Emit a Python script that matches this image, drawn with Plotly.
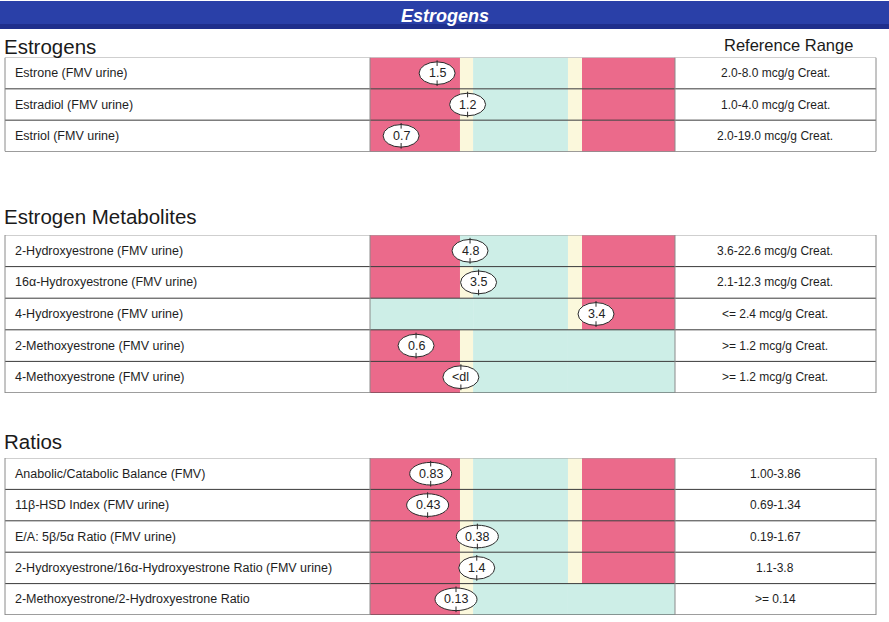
import plotly.graph_objects as go

W, H = 889, 622

# ---------------- data ----------------
section_titles = ["Estrogens", "Estrogen Metabolites", "Ratios"]
header_title = "Estrogens"
range_header = "Reference Range"

est_labels = ["Estrone (FMV urine)", "Estradiol (FMV urine)", "Estriol (FMV urine)"]
est_values = ["1.5", "1.2", "0.7"]
est_pos = [22.0, 32.0, 10.2]          # marker position along the band (% of band)
est_ranges = ["2.0-8.0 mcg/g Creat.", "1.0-4.0 mcg/g Creat.", "2.0-19.0 mcg/g Creat."]

met_labels = ["2-Hydroxyestrone (FMV urine)", "16α-Hydroxyestrone (FMV urine)",
              "4-Hydroxyestrone (FMV urine)", "2-Methoxyestrone (FMV urine)",
              "4-Methoxyestrone (FMV urine)"]
met_values = ["4.8", "3.5", "3.4", "0.6", "<dl"]
met_pos = [32.8, 35.6, 74.1, 15.1, 29.8]
met_ranges = ["3.6-22.6 mcg/g Creat.", "2.1-12.3 mcg/g Creat.", "<= 2.4 mcg/g Creat.",
              ">= 1.2 mcg/g Creat.", ">= 1.2 mcg/g Creat."]

rat_labels = ["Anabolic/Catabolic Balance (FMV)", "11β-HSD Index (FMV urine)",
              "E/A: 5β/5α Ratio (FMV urine)",
              "2-Hydroxyestrone/16α-Hydroxyestrone Ratio (FMV urine)",
              "2-Methoxyestrone/2-Hydroxyestrone Ratio"]
rat_values = ["0.83", "0.43", "0.38", "1.4", "0.13"]
rat_pos = [19.9, 18.9, 35.2, 35.0, 28.2]
rat_ranges = ["1.00-3.86", "0.69-1.34", "0.19-1.67", "1.1-3.8", ">= 0.14"]

# band scale breakpoints (% of band) and zone of each segment per row
zone_edges = [0, 29.5, 33.8, 64.9, 69.5, 100]
FULL = ["low", "border", "normal", "border", "high"]
UPPER = ["normal", "normal", "normal", "border", "high"]
LOWER = ["low", "border", "normal", "normal", "normal"]
est_zones = [FULL, FULL, FULL]
met_zones = [["low", "normal", "normal", "border", "high"], FULL, UPPER, LOWER, LOWER]
rat_zones = [FULL, FULL, FULL, FULL, LOWER]

# ---------------- style ----------------
zone_colors = {"low": "#eb6a8b", "border": "#fbf8dc", "normal": "#cdeee7"}
FONT = "Liberation Sans, Arial, sans-serif"
BAND_X0, BAND_X1 = 370, 675
TABLE_X0, TABLE_X1 = 5, 876
BAND_PX = BAND_X1 - BAND_X0
table_px = [(57.5, 151.5), (235, 393), (458, 615)]
title_px = [46, 217, 441]
ELL_H = 0.36   # half height of the value ellipse, in row units

sections = [
    (est_labels, est_values, est_pos, est_ranges, est_zones),
    (met_labels, met_values, met_pos, met_ranges, met_zones),
    (rat_labels, rat_values, rat_pos, rat_ranges, rat_zones),
]

def px_x(p):
    return p / W

def px_y(p):
    return 1 - p / H

def esc(s):
    return s.replace("<", "&lt;")

fig = go.Figure()
shapes = []
annotations = []

# header bar
shapes.append(dict(type="rect", xref="paper", yref="paper", x0=0, x1=1,
                   y0=px_y(29), y1=px_y(1), fillcolor="#2a40a8", line_width=0, layer="below"))
shapes.append(dict(type="rect", xref="paper", yref="paper", x0=0, x1=1,
                   y0=px_y(29), y1=px_y(24), fillcolor="#1f2f8c", line_width=0, layer="below"))
annotations.append(dict(xref="paper", yref="paper", x=0.5, y=px_y(16), text=f"<b><i>{header_title}</i></b>",
                        showarrow=False, font=dict(family=FONT, size=18, color="white"),
                        xanchor="center", yanchor="middle"))
annotations.append(dict(xref="paper", yref="paper", x=px_x(788), y=px_y(44.5), text=range_header,
                        showarrow=False, font=dict(family=FONT, size=16.5, color="#1a1a1a"),
                        xanchor="center", yanchor="middle"))

layout_axes = {}
for k, (labels, values, pos, ranges, zones) in enumerate(sections):
    n = len(labels)
    yname = "y" if k == 0 else f"y{k + 1}"
    axkey = "yaxis" if k == 0 else f"yaxis{k + 1}"
    top, bot = table_px[k]
    layout_axes[axkey] = dict(domain=[px_y(bot), px_y(top)], range=[n, 0], visible=False,
                              anchor="x", fixedrange=True)
    rows = [i + 0.5 for i in range(n)]

    # band segments
    for zone in ["low", "border", "normal"]:
        ys, xs, bs = [], [], []
        for i in range(n):
            for s in range(len(zone_edges) - 1):
                z = zones[i][s]
                if (z if z != "high" else "low") == zone:
                    ys.append(rows[i])
                    bs.append(zone_edges[s])
                    xs.append(zone_edges[s + 1] - zone_edges[s])
        fig.add_trace(go.Bar(orientation="h", y=ys, x=xs, base=bs, width=1,
                             marker=dict(color=zone_colors[zone], line_width=0),
                             xaxis="x", yaxis=yname, hoverinfo="skip", showlegend=False))

    # table lines
    for b in range(n + 1):
        shapes.append(dict(type="line", xref="paper", yref=yname, x0=px_x(TABLE_X0), x1=px_x(TABLE_X1),
                           y0=b, y1=b, line=dict(color="#a0a0a0" if b == 0 else "#3a3a3a", width=1)))
    for xv in [TABLE_X0, BAND_X0, BAND_X1, TABLE_X1]:
        shapes.append(dict(type="line", xref="paper", yref=yname, x0=px_x(xv), x1=px_x(xv),
                           y0=0, y1=n, line=dict(color="#8a8a8a", width=1)))

    # markers
    for i in range(n):
        hw = (18 + 6 * len(values[i])) / BAND_PX * 100 / 2
        rc = rows[i]
        shapes.append(dict(type="circle", xref="x", yref=yname, x0=pos[i] - hw, x1=pos[i] + hw,
                           y0=rc - ELL_H, y1=rc + ELL_H, fillcolor="white",
                           line=dict(color="#2a2a2a", width=1)))
        shapes.append(dict(type="line", xref="x", yref=yname, x0=pos[i], x1=pos[i],
                           y0=rc - ELL_H - 0.05, y1=rc - ELL_H + 0.13, line=dict(color="#2a2a2a", width=1)))
        shapes.append(dict(type="line", xref="x", yref=yname, x0=pos[i], x1=pos[i],
                           y0=rc + ELL_H - 0.13, y1=rc + ELL_H + 0.05, line=dict(color="#2a2a2a", width=1)))
        annotations.append(dict(xref="x", yref=yname, x=pos[i], y=rc, text=esc(values[i]),
                                showarrow=False, xanchor="center", yanchor="middle",
                                font=dict(family=FONT, size=12.5, color="#222")))
        annotations.append(dict(xref="paper", yref=yname, x=px_x(13), y=rc, text=labels[i],
                                showarrow=False, xanchor="left", yanchor="middle",
                                font=dict(family=FONT, size=12.5, color="#1e1e1e")))
        annotations.append(dict(xref="paper", yref=yname, x=px_x(775), y=rc, text=esc(ranges[i]),
                                showarrow=False, xanchor="center", yanchor="middle",
                                font=dict(family=FONT, size=12, color="#1e1e1e")))

    annotations.append(dict(xref="paper", yref="paper", x=px_x(2), y=px_y(title_px[k]),
                            text=section_titles[k], showarrow=False, xanchor="left", yanchor="middle",
                            font=dict(family=FONT, size=20.5, color="#1a1a1a")))

fig.update_layout(
    width=W, height=H, margin=dict(l=0, r=0, t=0, b=0),
    paper_bgcolor="white", plot_bgcolor="white", barmode="overlay", showlegend=False,
    xaxis=dict(domain=[px_x(BAND_X0), px_x(BAND_X1)], range=[0, 100], visible=False, fixedrange=True),
    shapes=shapes, annotations=annotations,
    **layout_axes,
)

fig.write_html("out.html", config={"displayModeBar": False},
               post_script="document.body.style.margin='0';document.body.style.overflow='hidden';")
